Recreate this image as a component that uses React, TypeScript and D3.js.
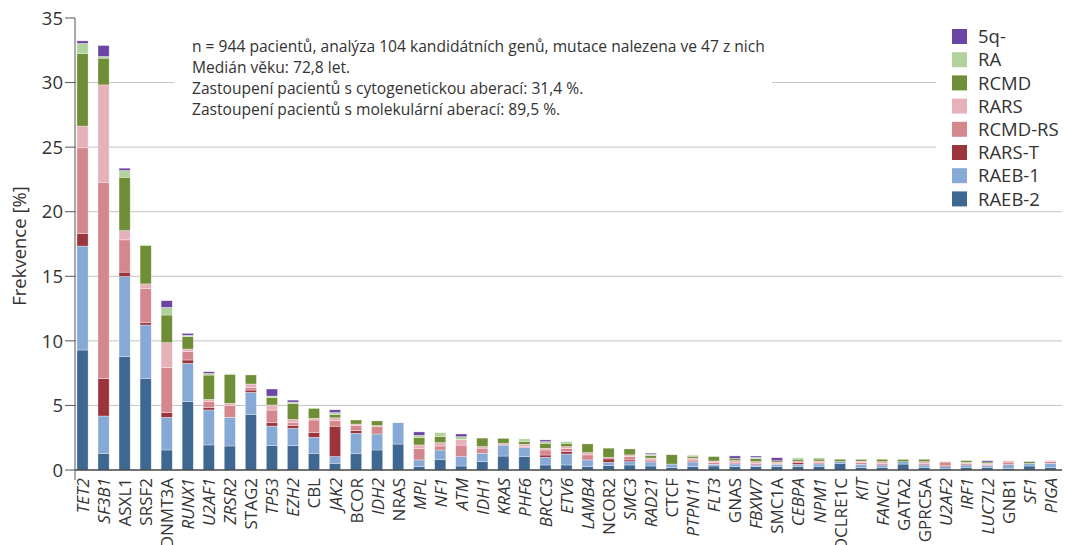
import React from "react";
import * as d3 from "d3";

// Genes with a detected mutation, ordered by overall frequency
const genes = [
  "TET2", "SF3B1", "ASXL1", "SRSF2", "DNMT3A", "RUNX1", "U2AF1", "ZRSR2", "STAG2", "TP53",
  "EZH2", "CBL", "JAK2", "BCOR", "IDH2", "NRAS", "MPL", "NF1", "ATM", "IDH1",
  "KRAS", "PHF6", "BRCC3", "ETV6", "LAMB4", "NCOR2", "SMC3", "RAD21", "CTCF", "PTPN11",
  "FLT3", "GNAS", "FBXW7", "SMC1A", "CEBPA", "NPM1", "DCLRE1C", "KIT", "FANCL", "GATA2",
  "GPRC5A", "U2AF2", "IRF1", "LUC7L2", "GNB1", "SF1", "PIGA",
];

// Gene symbols printed in an upright face on the axis
const uprightGenes = new Set([
  "ASXL1", "SRSF2", "DNMT3A", "STAG2", "CBL", "BCOR", "NRAS", "NCOR2", "CTCF",
  "GNAS", "SMC1A", "DCLRE1C", "GATA2", "GPRC5A", "GNB1",
]);

// Frequency [%] per MDS subtype, one value per gene (same order as genes)
const raeb2 = [
  9.29, 1.29, 8.78, 7.1, 1.55, 5.29, 1.94, 1.86, 4.31, 1.88,
  1.88, 1.29, 0.52, 1.29, 1.55, 2.01, 0.26, 0.83, 0.31, 0.65,
  1.08, 1.03, 0.39, 0.39, 0.26, 0.34, 0.39, 0.31, 0.2, 0.26,
  0.31, 0.26, 0.26, 0.26, 0.26, 0.26, 0.52, 0.21, 0.21, 0.46,
  0.21, 0.08, 0.21, 0.21, 0.13, 0.31, 0.21,
];
const raeb1 = [
  8.05, 2.89, 6.2, 4.13, 2.53, 2.97, 2.71, 2.22, 1.7, 1.52,
  1.34, 1.24, 0.52, 1.55, 1.24, 1.65, 0.52, 0.72, 0.72, 0.65,
  0.85, 0.7, 0.59, 0.85, 0.52, 0.26, 0.26, 0.31, 0.26, 0.36,
  0.13, 0.21, 0.13, 0.18, 0.18, 0.21, 0.13, 0.23, 0.18, 0.18,
  0.18, 0.18, 0.18, 0.13, 0.28, 0.21, 0.31,
];
const rarsT = [
  0.98, 2.92, 0.34, 0.18, 0.36, 0.26, 0.2, 0, 0.18, 0.26,
  0.21, 0.36, 2.35, 0.21, 0, 0, 0, 0, 0, 0,
  0, 0, 0.18, 0.18, 0, 0.26, 0.13, 0, 0, 0,
  0, 0, 0, 0, 0.15, 0, 0, 0, 0, 0,
  0, 0.1, 0, 0, 0, 0, 0,
];
const rcmdRs = [
  6.63, 15.18, 2.5, 2.66, 3.51, 0.65, 0.44, 0.93, 0.21, 0.98,
  0.23, 0.98, 0.44, 0.41, 0.57, 0, 0.9, 0.31, 0.9, 0.39,
  0, 0.08, 0.39, 0.26, 0.39, 0.13, 0.26, 0.15, 0, 0.15,
  0.13, 0.13, 0.13, 0.08, 0.1, 0.13, 0, 0.15, 0.13, 0,
  0.13, 0.26, 0.13, 0.1, 0.2, 0, 0.13,
];
const rars = [
  1.68, 7.54, 0.72, 0.34, 1.91, 0.2, 0.18, 0.15, 0.26, 0.39,
  0.26, 0.13, 0.21, 0.1, 0.08, 0, 0.26, 0.26, 0.44, 0.13,
  0.13, 0.18, 0.13, 0.13, 0.18, 0, 0.13, 0.15, 0, 0.15,
  0.13, 0.13, 0.13, 0.1, 0, 0.1, 0, 0.1, 0.13, 0,
  0.13, 0.03, 0.08, 0.08, 0.1, 0, 0.08,
];
const rcmd = [
  5.63, 2.07, 4.13, 2.97, 2.14, 0.96, 1.88, 2.25, 0.7, 0.57,
  1.24, 0.77, 0.26, 0.31, 0.36, 0, 0.57, 0.46, 0, 0.65,
  0.39, 0.21, 0.39, 0.26, 0.67, 0.7, 0.46, 0.2, 0.72, 0.15,
  0.34, 0.18, 0.23, 0.1, 0.15, 0.15, 0.18, 0.13, 0.18, 0.18,
  0.18, 0, 0.13, 0.1, 0, 0.13, 0,
];
const ra = [
  0.77, 0.13, 0.52, 0, 0.59, 0.1, 0.13, 0.05, 0, 0.13,
  0.1, 0, 0.15, 0, 0, 0.02, 0.18, 0.31, 0.21, 0,
  0, 0.21, 0.13, 0.13, 0, 0, 0, 0.1, 0, 0.08,
  0, 0, 0.1, 0, 0.1, 0.1, 0, 0, 0, 0,
  0, 0, 0, 0, 0, 0, 0,
];
const del5q = [
  0.2, 0.85, 0.18, 0, 0.52, 0.15, 0.13, 0, 0, 0.54,
  0.15, 0, 0.21, 0, 0, 0, 0.26, 0, 0.21, 0,
  0, 0, 0.13, 0, 0, 0, 0, 0.08, 0, 0,
  0, 0.18, 0.1, 0.23, 0, 0, 0, 0, 0, 0,
  0, 0, 0, 0.1, 0, 0, 0,
];

// Subtypes, stacked bottom to top
const subtypes = ["RAEB-2", "RAEB-1", "RARS-T", "RCMD-RS", "RARS", "RCMD", "RA", "5q-"];
const subtypeValues = [raeb2, raeb1, rarsT, rcmdRs, rars, rcmd, ra, del5q];
const subtypeColors = ["#3e6791", "#86a9d6", "#9c343b", "#d5878e", "#e6b1b9", "#6f8e37", "#b0d29c", "#6b45a3"];

const yTicks = [0, 5, 10, 15, 20, 25, 30, 35];

const infoLines = [
  "n = 944 pacientů, analýza 104 kandidátních genů, mutace nalezena ve 47 z nich",
  "Medián věku: 72,8 let.",
  "Zastoupení pacientů s cytogenetickou aberací: 31,4 %.",
  "Zastoupení pacientů s molekulární aberací: 89,5 %.",
];

const W = 1065;
const H = 545;
const AXIS_X = 75;
const BASE_Y = 470;
const TOP_Y = 18;
const RIGHT_X = 1062;

export default function App() {
  const rows = genes.map((g, i) => {
    const row: Record<string, any> = { gene: g };
    subtypes.forEach((s, k) => (row[s] = subtypeValues[k][i]));
    return row;
  });
  const series = d3.stack<any>().keys(subtypes)(rows);

  const x = d3.scaleBand<string>().domain(genes).range([72, 1061]).paddingInner(0.47).paddingOuter(0.235);
  const y = d3.scaleLinear().domain([0, 35]).range([BASE_Y, TOP_Y]);
  const color = d3.scaleOrdinal<string, string>().domain(subtypes).range(subtypeColors);

  const font = "'Open Sans', 'Noto Sans', sans-serif";

  return (
    <svg
      width={W}
      height={H}
      style={{ position: "absolute", left: 0, top: 0, background: "#fff" }}
      fontFamily={font}
    >
      {/* horizontal gridlines */}
      {yTicks.filter((t) => t > 0 && t < 35).map((t) => (
        <line key={t} x1={AXIS_X} x2={RIGHT_X} y1={y(t)} y2={y(t)} stroke="#c4c4c4" strokeWidth={1} />
      ))}

      {/* info box and legend backdrops */}
      <rect x={174} y={28} width={598} height={96} fill="#fff" />
      <rect x={936} y={24} width={129} height={184} fill="#fff" />

      {/* stacked bars */}
      {series.map((s) => (
        <g key={s.key} fill={color(s.key)}>
          {s.map((d, i) =>
            d[1] - d[0] > 0 ? (
              <rect
                key={i}
                x={x(genes[i])}
                width={x.bandwidth()}
                y={y(d[1])}
                height={y(d[0]) - y(d[1])}
                stroke="rgba(255,255,255,0.55)"
                strokeWidth={0.6}
              />
            ) : null
          )}
        </g>
      ))}

      {/* y axis */}
      <line x1={AXIS_X} x2={AXIS_X} y1={TOP_Y} y2={BASE_Y + 10} stroke="#555" strokeWidth={1} />
      {yTicks.map((t) => (
        <g key={t}>
          <line x1={AXIS_X - 10} x2={AXIS_X} y1={y(t)} y2={y(t)} stroke="#555" strokeWidth={1} />
          <text x={AXIS_X - 12} y={y(t)} dy="0.36em" textAnchor="end" fontSize={18.5} fill="#333">
            {t}
          </text>
        </g>
      ))}
      <text
        transform={`translate(26, 246) rotate(-90)`}
        textAnchor="middle"
        fontSize={18.5}
        fill="#333"
      >
        Frekvence [%]
      </text>

      {/* x axis */}
      <line x1={AXIS_X} x2={RIGHT_X} y1={BASE_Y} y2={BASE_Y} stroke="#444" strokeWidth={1.5} />
      {genes.map((g) => {
        const cx = (x(g) as number) + x.bandwidth() / 2;
        return (
          <text
            key={g}
            transform={`translate(${cx + 6.5}, 478) rotate(-90)`}
            textAnchor="end"
            fontSize={17}
            fontStyle={uprightGenes.has(g) ? "normal" : "italic"}
            fill="#333"
          >
            {g}
          </text>
        );
      })}

      {/* info text */}
      {infoLines.map((line, i) => (
        <text key={i} x={192} y={52 + i * 21} fontSize={15.6} fill="#333">
          {line}
        </text>
      ))}

      {/* legend, top entry is the last stacked subtype */}
      {subtypes
        .slice()
        .reverse()
        .map((s, i) => (
          <g key={s} transform={`translate(952, ${29 + i * 23.2})`}>
            <rect width={15} height={15} fill={color(s)} />
            <text x={26} y={7.5} dy="0.36em" fontSize={18.5} fill="#333">
              {s}
            </text>
          </g>
        ))}
    </svg>
  );
}
